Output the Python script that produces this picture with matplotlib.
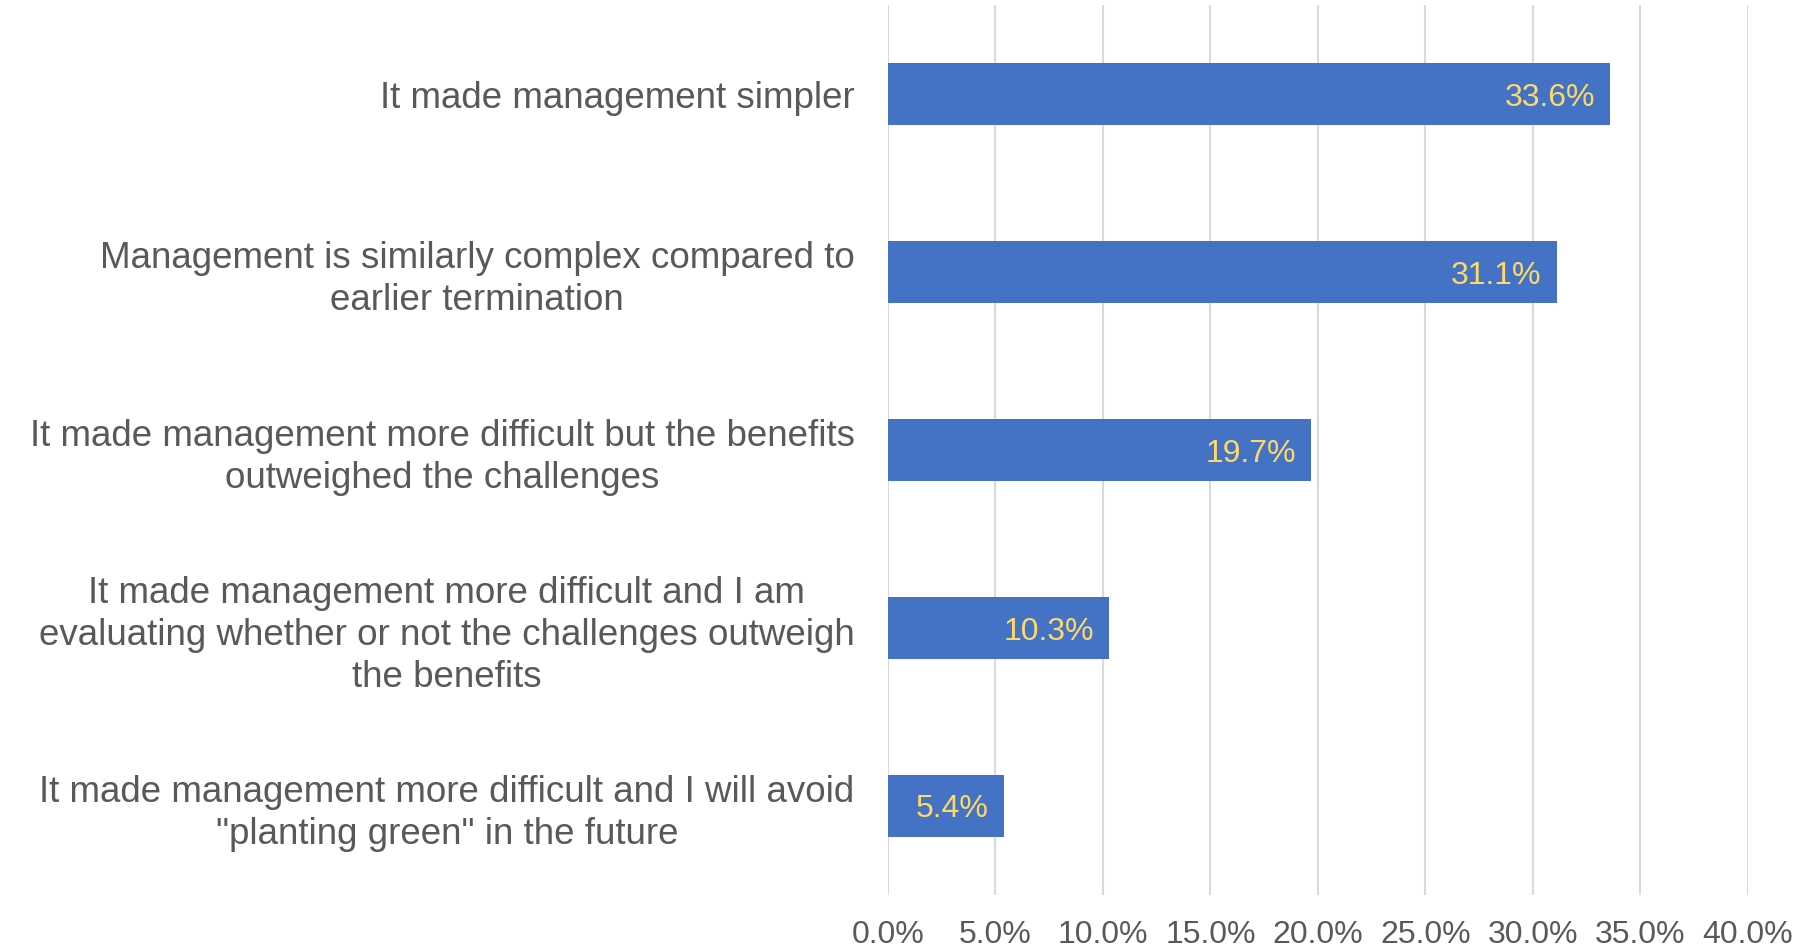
import matplotlib.pyplot as plt
import numpy as np

categories = [
    'It made management simpler',
    'Management is similarly complex compared to\nearlier termination',
    'It made management more difficult but the benefits\noutweighed the challenges',
    'It made management more difficult and I am\nevaluating whether or not the challenges outweigh\nthe benefits',
    'It made management more difficult and I will avoid\n"planting green" in the future',
]
values = [33.6, 31.1, 19.7, 10.3, 5.4]
xticks = [0, 5, 10, 15, 20, 25, 30, 35, 40]

plt.rcParams['font.family'] = ['Liberation Sans', 'DejaVu Sans']

fig = plt.figure(figsize=(18.07, 9.50), dpi=100)
ax = fig.add_axes([0.4914, 0.0579, 0.4759, 0.9368])

y = np.arange(len(categories))
ax.barh(y, values, height=0.345, color='#4472C4', zorder=3)

for yi, v in zip(y, values):
    ax.text(v - 0.7, yi, '%.1f%%' % v, ha='right', va='center_baseline',
            color='#FFD966', fontsize=23, zorder=4)

ax.set_xlim(0, 40)
ax.set_ylim(len(categories) - 0.5, -0.5)
ax.set_xticks(xticks)
ax.set_xticklabels(['%.1f%%' % t for t in xticks])
ax.set_yticks(y)
ax.set_yticklabels(categories, multialignment='center', linespacing=1.27)
ax.tick_params(axis='x', length=0, pad=18, labelsize=23, labelcolor='#595959')
ax.tick_params(axis='y', length=0, pad=24, labelsize=26.5, labelcolor='#595959')

ax.grid(axis='x', color='#D9D9D9', linewidth=1.5, zorder=0)
for s in ax.spines.values():
    s.set_visible(False)

fig.savefig('out.png', dpi=100)
